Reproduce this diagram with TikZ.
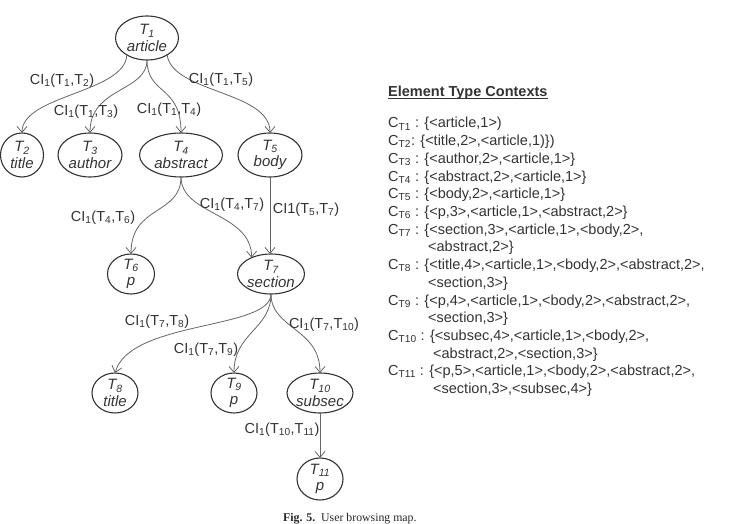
\documentclass[tikz,border=0pt]{standalone}
\usepackage{fontspec}
\setmainfont{Liberation Sans}
\newfontfamily\capfont{Liberation Serif}
\usetikzlibrary{shapes.geometric,arrows.meta}
\newcommand\sbs[1]{\textsubscript{#1}}
\tikzset{
 ell/.style={ellipse, draw=black!80, line width=1.1bp, inner sep=0pt, outer sep=0pt},
 tt/.style={align=center, inner sep=0pt, text=black!80, font=\fontsize{15bp}{16.5bp}\selectfont\itshape},
 ed/.style={draw=black!60, line width=0.8bp, -{Straight Barb[length=6bp,width=10bp,line width=0.8bp]}},
 lb/.style={inner sep=0pt, text=black!80, font=\fontsize{14.5bp}{17bp}\selectfont},
 ctx/.style={anchor=base west, inner sep=0pt, text=black!80, font=\fontsize{14.5bp}{17bp}\selectfont},
}
\newcommand\tnode[7]{%
 \node[ell, minimum width=#6bp, minimum height=#7bp] (#1) at (#2,#3) {};
 \node[tt] (#1t) at (#1.center) {T\sbs{#4}\\#5};}
\begin{document}
\begin{tikzpicture}[x=1bp,y=-1bp]
\useasboundingbox (0,0) rectangle (729,524);
% tree nodes
\tnode{T1}{147}{38}{1}{article}{63}{44}
\tnode{T2}{22}{155}{2}{title}{43}{44}
\tnode{T3}{90}{155}{3}{author}{64}{44}
\tnode{T4}{181}{155}{4}{abstract}{83}{44}
\tnode{T5}{270}{155}{5}{body}{64}{44}
\tnode{T6}{131}{274}{6}{p}{47}{40}
\tnode{T7}{271}{274}{7}{section}{67}{40}
\tnode{T8}{115}{393}{8}{title}{46}{40}
\tnode{T9}{234}{393}{9}{p}{46}{40}
\tnode{T10}{320}{393}{10}{subsec}{66}{40}
\tnode{T11}{320}{479}{11}{p}{46}{42}
% edges
\draw[ed] (T1.-140) .. controls +(-2,38) and +(0,-38) .. (T2.north);
\draw[ed] (T1.south) .. controls +(0,32) and +(0,-46) .. (T3.north);
\draw[ed] (T1.south) .. controls +(0,35) and +(0,-48) .. (T4.north);
\draw[ed] (T1.-40) .. controls +(5,38) and +(0,-42) .. (T5.north);
\draw[ed] (T4.south) .. controls +(0,38) and +(0,-49) .. (T6.north);
\draw[ed] (T4.south) .. controls +(0,38) and +(0,-45) .. (T7.140);
\draw[ed] (T5.south) -- (T5.south |- T7.north);
\draw[ed] (T7.south) .. controls +(0,36) and +(15,-53) .. (T8.north);
\draw[ed] (T7.south) .. controls +(0,35) and +(0,-40) .. (T9.north);
\draw[ed] (T7.south) .. controls +(0,35) and +(0,-45) .. (T10.north);
\draw[ed] (T10.south) -- (T11.north);
% edge labels
\node[lb] (l12) at (62,81) {CI\sbs{1}(T\sbs{1},T\sbs{2})};
\node[lb] (l13) at (86,112) {CI\sbs{1}(T\sbs{1},T\sbs{3})};
\node[lb] (l14) at (169,110) {CI\sbs{1}(T\sbs{1},T\sbs{4})};
\node[lb] (l15) at (221,80) {CI\sbs{1}(T\sbs{1},T\sbs{5})};
\node[lb] (l46) at (103,218) {CI\sbs{1}(T\sbs{4},T\sbs{6})};
\node[lb] (l47) at (232,205) {CI\sbs{1}(T\sbs{4},T\sbs{7})};
\node[lb] (l57) at (306,210) {CI1(T\sbs{5},T\sbs{7})};
\node[lb] (l78) at (157,322) {CI\sbs{1}(T\sbs{7},T\sbs{8})};
\node[lb] (l79) at (206,350) {CI\sbs{1}(T\sbs{7},T\sbs{9})};
\node[lb] (l710) at (324,325) {CI\sbs{1}(T\sbs{7},T\sbs{10})};
\node[lb] (l1011) at (282,430) {CI\sbs{1}(T\sbs{10},T\sbs{11})};
% contexts
\node[ctx, font=\fontsize{14.5bp}{17bp}\selectfont\bfseries] (hdr) at (388,97) {Element Type Contexts};
\draw[black!80, line width=1.2bp] ([yshift=-1.6bp]hdr.base west) -- ([yshift=-1.6bp]hdr.base east);
\node[ctx] (c1) at (388,128) {C\sbs{T1} : \{<article,1>)};
\node[ctx] (c2) at (388,145.7) {C\sbs{T2}: \{<title,2>,<article,1)\})};
\node[ctx] (c3) at (388,163.4) {C\sbs{T3} : \{<author,2>,<article,1>\}};
\node[ctx] (c4) at (388,181.1) {C\sbs{T4} : \{<abstract,2>,<article,1>\}};
\node[ctx] (c5) at (388,198.8) {C\sbs{T5} : \{<body,2>,<article,1>\}};
\node[ctx] (c6) at (388,216.5) {C\sbs{T6} : \{<p,3>,<article,1>,<abstract,2>\}};
\node[ctx] (c7) at (388,234.2) {C\sbs{T7} : \{<section,3>,<article,1>,<body,2>,};
\node[ctx] (c7b) at (428,251.9) {<abstract,2>\}};
\node[ctx] (c8) at (388,269.6) {C\sbs{T8} : \{<title,4>,<article,1>,<body,2>,<abstract,2>,};
\node[ctx] (c8b) at (428,287.3) {<section,3>\}};
\node[ctx] (c9) at (388,305) {C\sbs{T9} : \{<p,4>,<article,1>,<body,2>,<abstract,2>,};
\node[ctx] (c9b) at (428,322.7) {<section,3>\}};
\node[ctx] (c10) at (388,340.4) {C\sbs{T10} : \{<subsec,4>,<article,1>,<body,2>,};
\node[ctx] (c10b) at (433,358.1) {<abstract,2>,<section,3>\}};
\node[ctx] (c11) at (388,375.8) {C\sbs{T11} : \{<p,5>,<article,1>,<body,2>,<abstract,2>,};
\node[ctx] (c11b) at (433,393.5) {<section,3>,<subsec,4>\}};
% caption
\node[anchor=base west, inner sep=0pt, text=black!85, font=\capfont\fontsize{11.8bp}{13bp}\selectfont] (cap) at (283,521.5) {\textbf{Fig. 5.}\enspace User browsing map.};
\end{tikzpicture}
\end{document}
